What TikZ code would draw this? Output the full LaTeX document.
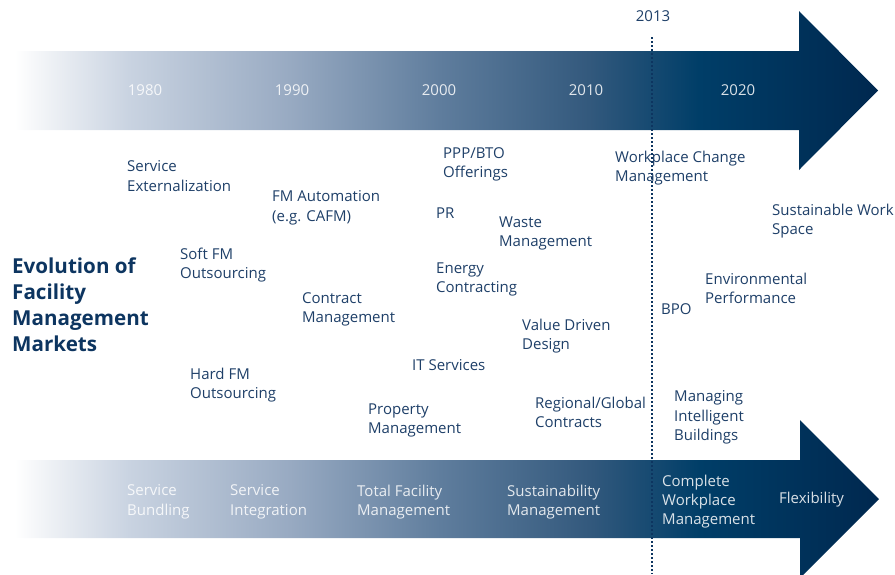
\documentclass[tikz,border=0pt]{standalone}
\usepackage{fontspec}
\setmainfont{Open Sans}
\definecolor{txtblue}{HTML}{1E3F68}
\definecolor{ttlblue}{HTML}{0D3560}
\definecolor{dotblue}{HTML}{0D3560}
\definecolor{s1}{HTML}{EEF1F5}
\definecolor{s2}{HTML}{C9D3E1}
\definecolor{s3}{HTML}{98AAC2}
\definecolor{s4}{HTML}{5F7D9D}
\definecolor{s5}{HTML}{33597D}
\definecolor{s6}{HTML}{003E68}
\definecolor{s7}{HTML}{00284F}
\pgfdeclarehorizontalshading{arrowshade}{100bp}{%
  color(0bp)=(white);
  color(25bp)=(white);
  color(27bp)=(s1);
  color(31.6bp)=(s2);
  color(40.9bp)=(s3);
  color(49.6bp)=(s4);
  color(58.2bp)=(s5);
  color(64.6bp)=(s6);
  color(75bp)=(s7);
  color(100bp)=(s7)}
\newcommand{\lblfont}{\fontsize{15}{19.3}\selectfont}
\tikzset{
  lbl/.style={anchor=north west, inner sep=0pt, align=left, text=txtblue, font=\lblfont, execute at begin node=\strut},
  wlbl/.style={lbl, text=white, text opacity=0.85},
  year/.style={inner sep=0pt, text=white, text opacity=0.85, font=\lblfont},
  ttl/.style={anchor=north west, inner sep=0pt, align=left, text=ttlblue, font=\fontsize{20.6}{25.7}\selectfont\bfseries, execute at begin node=\strut},
  bigarrow/.style={shading=arrowshade, draw=none}
}
\begin{document}
\begin{tikzpicture}[x=1pt,y=-1pt]
\useasboundingbox (0,0) rectangle (895,574);
\clip (0,0) rectangle (895,574);
% top arrow
\shade[bigarrow] (15,51) -- (799,51) -- (799,11) -- (878,90.5) -- (799,170) -- (799,130) -- (15,130) -- cycle;
% bottom arrow
\shade[bigarrow] (15,460) -- (800,460) -- (800,420) -- (879,499) -- (800,578) -- (800,538) -- (15,538) -- cycle;
% years
\node[year] (y1980) at (145,90) {1980};
\node[year] (y1990) at (292,90) {1990};
\node[year] (y2000) at (439,90) {2000};
\node[year] (y2010) at (586,90) {2010};
\node[year] (y2020) at (738,90) {2020};
% 2013 marker
\node[inner sep=0pt, text=txtblue, font=\lblfont] (y2013) at (653,16) {2013};
\coordinate (dtop) at (652,37);
\coordinate (dbot) at (652,574);
\draw[dotblue, line width=2pt, dash pattern=on 2pt off 2pt] (dtop) -- (dbot);
% title
\node[ttl] (title) at (12,258) {Evolution of\\Facility\\Management\\Markets};
% labels
\node[lbl] (n1) at (127,160.5) {Service\\Externalization};
\node[lbl] (n2) at (272,190.5) {FM Automation\\(e.g. CAFM)};
\node[lbl] (n3) at (443,147.5) {PPP/BTO\\Offerings};
\node[lbl] (n4) at (436,204.5) {PR};
\node[lbl] (n5) at (499,216.5) {Waste\\Management};
\node[lbl] (n6) at (436,262.5) {Energy\\Contracting};
\node[lbl] (n7) at (180,247.5) {Soft FM\\Outsourcing};
\node[lbl] (n8) at (302,292.5) {Contract\\Management};
\node[lbl] (n9) at (522,318.5) {Value Driven\\Design};
\node[lbl] (n10) at (412,356.5) {IT Services};
\node[lbl] (n11) at (190,367.5) {Hard FM\\Outsourcing};
\node[lbl] (n12) at (368,403.5) {Property\\Management};
\node[lbl] (n13) at (535,396.5) {Regional/Global\\Contracts};
\node[lbl] (n14) at (615,150.5) {Workplace Change\\Management};
\node[lbl] (n15) at (772,203.5) {Sustainable Work\\Space};
\node[lbl] (n16) at (705,272.5) {Environmental\\Performance};
\node[lbl] (n17) at (661,300.5) {BPO};
\node[lbl] (n18) at (674,390.5) {Managing\\Intelligent\\Buildings};
% bottom arrow labels
\node[wlbl] (b1) at (127,484.5) {Service\\Bundling};
\node[wlbl] (b2) at (230,484.5) {Service\\Integration};
\node[wlbl] (b3) at (357,484.5) {Total Facility\\Management};
\node[wlbl] (b4) at (507,484.5) {Sustainability\\Management};
\node[wlbl] (b5) at (662,474.5) {Complete\\Workplace\\Management};
\node[wlbl] (b6) at (779,489.5) {Flexibility};
\end{tikzpicture}
\end{document}
